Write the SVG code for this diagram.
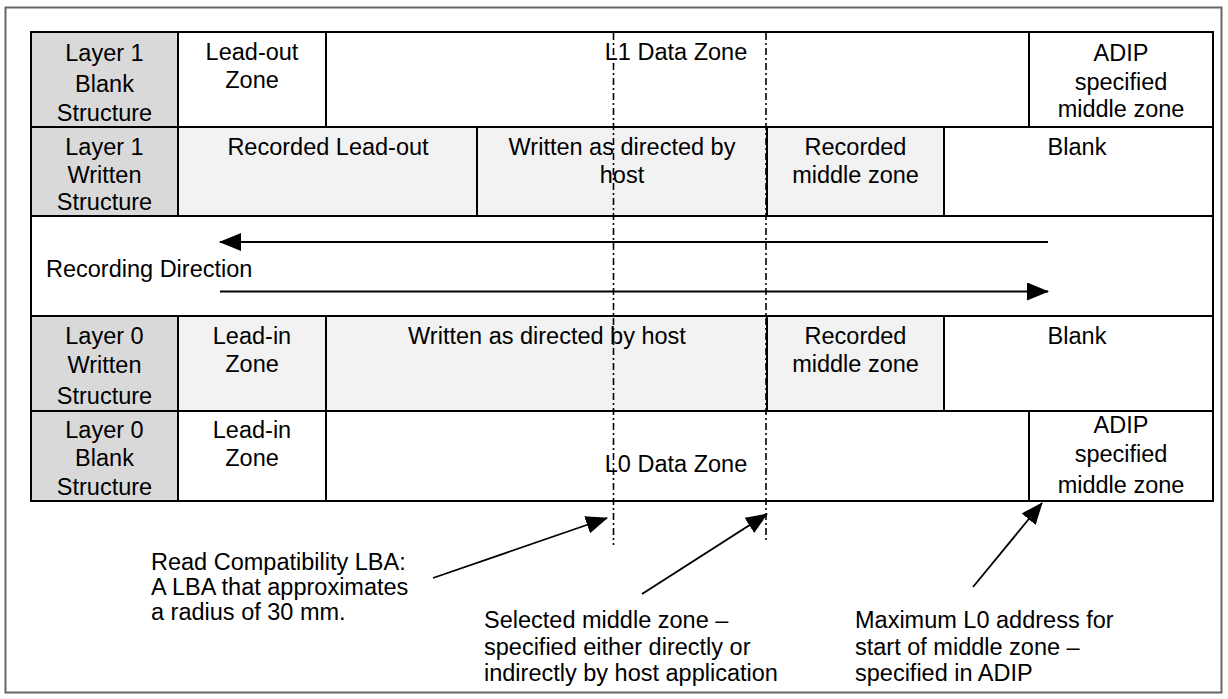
<svg xmlns="http://www.w3.org/2000/svg" width="1228" height="699" viewBox="0 0 1228 699">
<defs>
<style>
text{font-family:"Liberation Sans",Arial,sans-serif;font-size:23.5px;fill:#000}
.c{text-anchor:middle}
.cell{stroke:#000;stroke-width:2}
.hd{fill:#d9d9d9}
.lt{fill:#f2f2f2}
.wh{fill:#fff}
.dash{stroke:#000;stroke-width:1.6;stroke-dasharray:7 3 2 3;fill:none}
.arr{stroke:#000;stroke-width:1.8;fill:none;marker-end:url(#ah)}
</style>
<marker id="ah" markerUnits="userSpaceOnUse" markerWidth="24" markerHeight="20" refX="21" refY="9" orient="auto">
<path d="M0,0 L22,9 L0,18 z" fill="#000"/>
</marker>
</defs>
<rect x="0" y="0" width="1228" height="699" fill="#fff"/>
<rect x="5.5" y="7.5" width="1216" height="685" fill="#fff" stroke="#666" stroke-width="2"/>

<g id="row1">
<g id="l1-blank-hdr"><rect class="cell hd" x="31" y="32" width="147" height="95"/>
<text class="c" x="104.5" y="61">Layer 1</text><text class="c" x="104.5" y="92">Blank</text><text class="c" x="104.5" y="121">Structure</text></g>
<g id="l1-leadout"><rect class="cell wh" x="178" y="32" width="148" height="95"/>
<text class="c" x="252" y="60">Lead-out</text><text class="c" x="252" y="88">Zone</text></g>
<g id="l1-data"><rect class="cell wh" x="326" y="32" width="703" height="95"/>
<text class="c" x="676" y="60">L1 Data Zone</text></g>
<g id="l1-adip"><rect class="cell wh" x="1029" y="32" width="184" height="95"/>
<text class="c" x="1121" y="61">ADIP</text><text class="c" x="1121" y="90">specified</text><text class="c" x="1121" y="117">middle zone</text></g>
</g>

<g id="row2">
<g id="l1-written-hdr"><rect class="cell hd" x="31" y="127" width="147" height="89"/>
<text class="c" x="104.5" y="155">Layer 1</text><text class="c" x="104.5" y="183">Written</text><text class="c" x="104.5" y="210">Structure</text></g>
<g id="l1-rec-leadout"><rect class="cell lt" x="178" y="127" width="299" height="89"/>
<text class="c" x="328" y="155">Recorded Lead-out</text></g>
<g id="l1-written-host"><rect class="cell lt" x="477" y="127" width="290" height="89"/>
<text class="c" x="622" y="155">Written as directed by</text><text class="c" x="622" y="183">host</text></g>
<g id="l1-rec-middle"><rect class="cell lt" x="767" y="127" width="177" height="89"/>
<text class="c" x="855.5" y="155">Recorded</text><text class="c" x="855.5" y="183">middle zone</text></g>
<g id="l1-blank"><rect class="cell wh" x="944" y="127" width="269" height="89"/>
<text class="c" x="1077" y="155">Blank</text></g>
</g>

<g id="row3">
<g id="rec-direction"><rect class="cell wh" x="31" y="216" width="1182" height="100"/>
<text x="46" y="277">Recording Direction</text></g>
</g>

<g id="row4">
<g id="l0-written-hdr"><rect class="cell hd" x="31" y="316" width="147" height="95"/>
<text class="c" x="104.5" y="344">Layer 0</text><text class="c" x="104.5" y="373">Written</text><text class="c" x="104.5" y="404">Structure</text></g>
<g id="l0-leadin-w"><rect class="cell lt" x="178" y="316" width="148" height="95"/>
<text class="c" x="252" y="344">Lead-in</text><text class="c" x="252" y="372">Zone</text></g>
<g id="l0-written-host"><rect class="cell lt" x="326" y="316" width="441" height="95"/>
<text class="c" x="547" y="344">Written as directed by host</text></g>
<g id="l0-rec-middle"><rect class="cell lt" x="767" y="316" width="177" height="95"/>
<text class="c" x="855.5" y="344">Recorded</text><text class="c" x="855.5" y="372">middle zone</text></g>
<g id="l0-blank"><rect class="cell wh" x="944" y="316" width="269" height="95"/>
<text class="c" x="1077" y="344">Blank</text></g>
</g>

<g id="row5">
<g id="l0-blank-hdr"><rect class="cell hd" x="31" y="411" width="147" height="90"/>
<text class="c" x="104.5" y="438">Layer 0</text><text class="c" x="104.5" y="466">Blank</text><text class="c" x="104.5" y="495">Structure</text></g>
<g id="l0-leadin-b"><rect class="cell wh" x="178" y="411" width="148" height="90"/>
<text class="c" x="252" y="438">Lead-in</text><text class="c" x="252" y="466">Zone</text></g>
<g id="l0-data"><rect class="cell wh" x="326" y="411" width="703" height="90"/>
<text class="c" x="676" y="472">L0 Data Zone</text></g>
<g id="l0-adip"><rect class="cell wh" x="1029" y="411" width="184" height="90"/>
<text class="c" x="1121" y="433">ADIP</text><text class="c" x="1121" y="462">specified</text><text class="c" x="1121" y="493">middle zone</text></g>
</g>

<g id="note-rc"><text x="151" y="570">Read Compatibility LBA:</text><text x="151" y="595">A LBA that approximates</text><text x="151" y="620">a radius of 30 mm.</text></g>
<g id="note-sel"><text x="484" y="628">Selected middle zone –</text><text x="484" y="655">specified either directly or</text><text x="484" y="681">indirectly by host application</text></g>
<g id="note-max"><text x="855" y="628">Maximum L0 address for</text><text x="855" y="655">start of middle zone –</text><text x="855" y="681">specified in ADIP</text></g>

<g id="connectors">
<line class="dash" x1="613.5" y1="33" x2="613.5" y2="545"/>
<line class="dash" x1="766" y1="33" x2="766" y2="542"/>
<line class="arr" x1="1048" y1="242" x2="220" y2="242"/>
<line class="arr" x1="220" y1="291.5" x2="1048" y2="291.5"/>
<line class="arr" x1="433" y1="578" x2="607" y2="518"/>
<line class="arr" x1="642" y1="594" x2="767" y2="514"/>
<line class="arr" x1="973" y1="587" x2="1042" y2="503"/>
</g>
</svg>
